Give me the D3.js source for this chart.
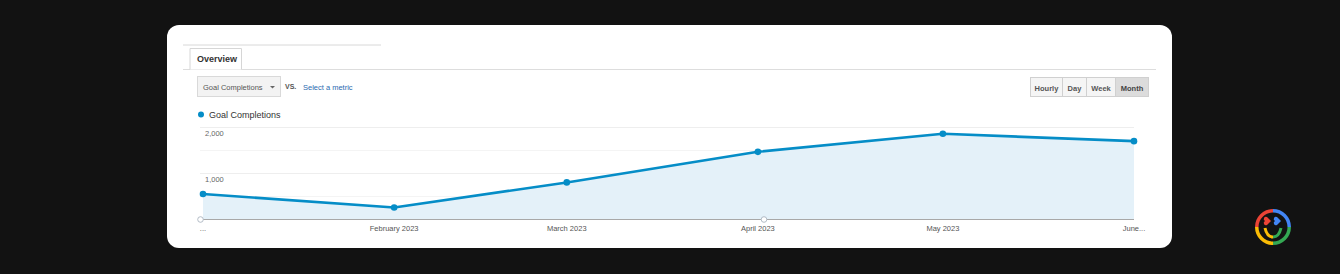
<!DOCTYPE html>
<html><head><meta charset="utf-8">
<script src="https://cdn.jsdelivr.net/npm/d3@7"></script>
<style>
html,body{margin:0;padding:0;background:#121212;}
svg{display:block;}
text{font-family:"Liberation Sans",Arial,sans-serif;}
</style></head>
<body>
<svg id="c" width="1340" height="274"></svg>
<script>
const months = ["2023-01-01","2023-02-01","2023-03-01","2023-04-01","2023-05-01","2023-06-01"];
const values = [550, 260, 800, 1460, 1850, 1690];
const tickLabels = ["...", "February 2023", "March 2023", "April 2023", "May 2023", "June..."];
const yTicks = [1000, 2000];
const yGrid = [500, 1000, 1500, 2000];
const seriesName = "Goal Completions";
const buttons = ["Hourly", "Day", "Week", "Month"];
const selectedButton = "Month";

const svg = d3.select("#c");
const parse = d3.timeParse("%Y-%m-%d");
const dates = months.map(parse);
const data = dates.map((d, i) => ({d, v: values[i]}));

svg.append("rect").attr("width",1340).attr("height",274).attr("fill","#121212");

// card
svg.append("rect").attr("x",167).attr("y",25).attr("width",1005).attr("height",223)
  .attr("rx",12).attr("fill","#ffffff");

// tab area
svg.append("line").attr("x1",183).attr("x2",381).attr("y1",45).attr("y2",45)
  .attr("stroke","#d8d8d8").attr("stroke-width",1);
svg.append("line").attr("x1",183).attr("x2",1156).attr("y1",69.5).attr("y2",69.5)
  .attr("stroke","#dddddd").attr("stroke-width",1);
svg.append("path").attr("d","M190,69.5 V48.5 H241.5 V69.5")
  .attr("fill","#fff").attr("stroke","#d6d6d6");
svg.append("text").attr("x",197).attr("y",62).attr("font-size",9).attr("font-weight","bold")
  .attr("fill","#333").text("Overview");

// dropdown
svg.append("rect").attr("x",197.5).attr("y",76.5).attr("width",83).attr("height",20)
  .attr("fill","#f3f3f3").attr("stroke","#d9d9d9");
svg.append("text").attr("x",203).attr("y",90).attr("font-size",7.5).attr("fill","#555").text(seriesName);
svg.append("path").attr("d","M270,86 h5 l-2.5,2.5z").attr("fill","#666");
svg.append("text").attr("x",285).attr("y",89).attr("font-size",7).attr("font-weight","bold")
  .attr("fill","#555").text("VS.");
svg.append("text").attr("x",303).attr("y",90).attr("font-size",7.5).attr("fill","#2a6bb0").text("Select a metric");

// buttons
const bx = [1030, 1062, 1086, 1115, 1148];
buttons.forEach((b, i) => {
  const sel = b === selectedButton;
  svg.append("rect").attr("x",bx[i]+0.5).attr("y",77.5).attr("width",bx[i+1]-bx[i]).attr("height",19)
    .attr("fill", sel ? "#dcdcdc" : "#f5f5f5").attr("stroke","#d0d0d0");
  svg.append("text").attr("x",(bx[i]+bx[i+1])/2+0.5).attr("y",90.5).attr("text-anchor","middle")
    .attr("font-size",7.5).attr("font-weight","bold").attr("fill", sel ? "#444" : "#555").text(b);
});

// legend
svg.append("circle").attr("cx",201).attr("cy",114.5).attr("r",3).attr("fill","#058dc7");
svg.append("text").attr("x",209).attr("y",118).attr("font-size",9).attr("fill","#333").text(seriesName);

// scales
const x = d3.scaleTime().domain([dates[0], dates[dates.length-1]]).range([203, 1134]);
const y = d3.scaleLinear().domain([0, 2000]).range([219.5, 126.8]);

// grid
svg.append("g").selectAll("line").data(yGrid).join("line")
  .attr("x1",200).attr("x2",1134).attr("y1",d=>Math.round(y(d))+0.5).attr("y2",d=>Math.round(y(d))+0.5)
  .attr("stroke", d => d % 1000 === 0 ? "#eeeeee" : "#f4f4f4").attr("stroke-width",1);

// area
const area = d3.area().x(d=>x(d.d)).y0(y(0)).y1(d=>y(d.v));
svg.append("path").datum(data).attr("d",area).attr("fill","#e4f1f9");

// baseline axis
svg.append("line").attr("x1",200).attr("x2",1134).attr("y1",y(0)).attr("y2",y(0))
  .attr("stroke","#a8a8a8").attr("stroke-width",1.2);

// y labels
svg.append("g").selectAll("text").data(yTicks).join("text")
  .attr("x",205).attr("y",d=>y(d)+9).attr("font-size",7.5).attr("fill","#666")
  .text(d=>d3.format(",")(d));

// line
const line = d3.line().x(d=>x(d.d)).y(d=>y(d.v));
svg.append("path").datum(data).attr("d",line).attr("fill","none")
  .attr("stroke","#058dc7").attr("stroke-width",2.6).attr("stroke-linejoin","round");
svg.append("g").selectAll("circle").data(data).join("circle")
  .attr("cx",d=>x(d.d)).attr("cy",d=>y(d.v)).attr("r",3.3).attr("fill","#058dc7");

// x labels
svg.append("g").selectAll("text").data(dates).join("text")
  .attr("x",d=>x(d)).attr("y",231).attr("text-anchor","middle")
  .attr("font-size",7.5).attr("fill","#555").text((d,i)=>tickLabels[i]);

// handles
[[200.5, y(0)], [764, y(0)]].forEach(([hx, hy]) => {
  svg.append("circle").attr("cx",hx).attr("cy",hy).attr("r",2.8)
    .attr("fill","#fff").attr("stroke","#aab4c0").attr("stroke-width",0.9);
});

// logo
const lg = svg.append("g").attr("transform","translate(1273,227)");
const arc = d3.arc().innerRadius(14.5).outerRadius(18);
const cols = [["#4285f4",0,Math.PI/2],["#34a853",Math.PI/2,Math.PI],["#fbbc05",Math.PI,1.5*Math.PI],["#ea4335",1.5*Math.PI,2*Math.PI]];
cols.forEach(([c,a0,a1]) => lg.append("path").attr("d",arc({startAngle:a0,endAngle:a1})).attr("fill",c));
const heart = "M0,3 L-4,-1 A2,2 0 0 1 0,-3 A2,2 0 0 1 4,-1 Z";
lg.append("path").attr("d",heart).attr("transform","translate(-5,-6) rotate(-90)").attr("fill","#ea4335");
lg.append("path").attr("d",heart).attr("transform","translate(5,-6) rotate(-90)").attr("fill","#4285f4");
lg.append("path").attr("d","M-8,1 Q-6,10 0,10").attr("fill","none").attr("stroke","#fbbc05").attr("stroke-width",3);
lg.append("path").attr("d","M0,10 Q6,10 8,1").attr("fill","none").attr("stroke","#34a853").attr("stroke-width",3);
</script>
</body></html>
